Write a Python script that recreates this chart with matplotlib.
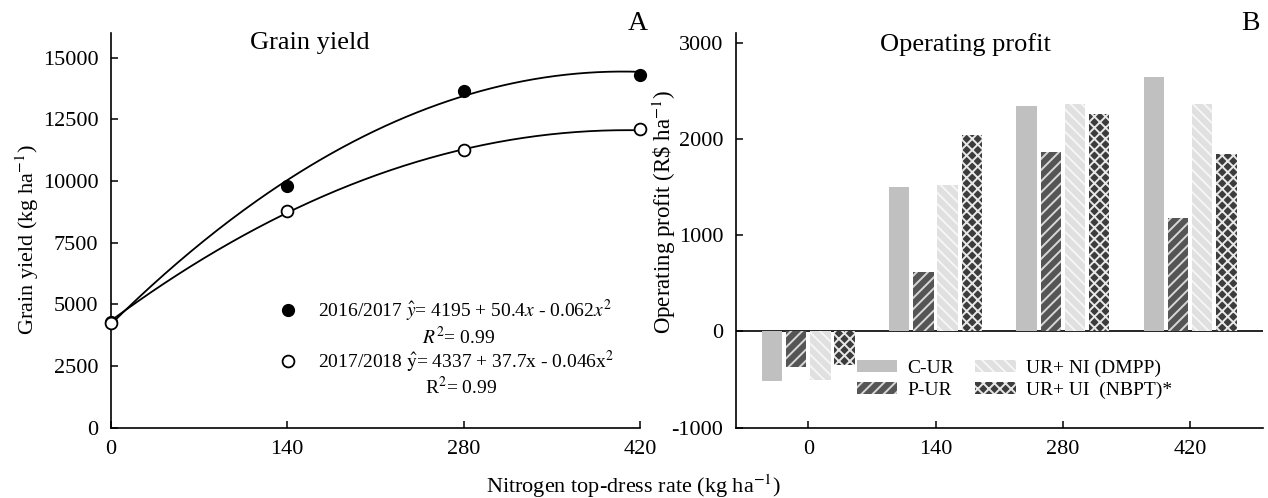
import numpy as np
import matplotlib
matplotlib.use("Agg")
import matplotlib.pyplot as plt

plt.rcParams['font.family'] = ['Liberation Serif', 'DejaVu Serif']
plt.rcParams['mathtext.fontset'] = 'stix'
plt.rcParams['hatch.linewidth'] = 1.4
plt.rcParams['axes.unicode_minus'] = False

# grain yield data (kg/ha)
rates = [0, 140, 280, 420]
yield_2016 = [4280, 9800, 13640, 14310]
yield_2017 = [4260, 8780, 11240, 12110]
# fitted quadratic coefficients (x^2, x, const) as printed on the chart
fit_2016 = [-0.062, 50.4, 4195]
fit_2017 = [-0.046, 37.7, 4337]

# operating profit (R$/ha)
rate_labels = ['0', '140', '280', '420']
treatments = ['C-UR', 'P-UR', 'UR+ NI (DMPP)', 'UR+ UI  (NBPT)*']
profit_cur = [-520, 1500, 2345, 2640]
profit_pur = [-365, 620, 1865, 1182]
profit_ni = [-505, 1525, 2358, 2366]
profit_ui = [-346, 2040, 2262, 1846]

fig = plt.figure(figsize=(12.68, 4.98), dpi=100)

# ---- panel A: grain yield ----
ax1 = fig.add_axes([0.0875, 0.1412, 0.4172, 0.7925])
xs = np.linspace(0, 420, 200)
ax1.plot(xs, np.polyval(fit_2016, xs), color='black', lw=1.3)
ax1.plot(xs, np.polyval(fit_2017, xs), color='black', lw=1.3)
h1, = ax1.plot(rates, yield_2016, 'o', color='black', ms=8.5, clip_on=False, zorder=3)
h2, = ax1.plot(rates, yield_2017, 'o', mfc='white', mec='black', mew=1.3, ms=8.5,
               clip_on=False, zorder=4)

ax1.set_xlim(0, 420)
ax1.set_ylim(0, 16000)
ax1.set_xticks(rates)
ax1.set_yticks(np.arange(0, 15001, 2500))
ax1.text(0.375, 0.975, 'Grain yield', transform=ax1.transAxes, ha='center',
         va='center', fontsize=19)

eq1 = r'2016/2017 $\hat{y}$= 4195 + 50.4$x$ - 0.062$x^2$'
eq2 = r'2017/2018 $\hat{\mathrm{y}}$= 4337 + 37.7x - 0.046x$^2$'
ax1.legend([h1, h2], [eq1, eq2], loc='upper left', bbox_to_anchor=(0.316, 0.33),
           frameon=False, fontsize=14, handlelength=1.0, handletextpad=1.05,
           borderpad=0, borderaxespad=0, labelspacing=1.3)
ax1.text(0.658, 0.230, r'$R^2$= 0.99', transform=ax1.transAxes, ha='center',
         va='center', fontsize=14)
ax1.text(0.662, 0.103, r'R$^2$= 0.99', transform=ax1.transAxes, ha='center',
         va='center', fontsize=14)

# ---- panel B: operating profit ----
ax2 = fig.add_axes([0.5802, 0.1412, 0.4161, 0.7925])
pos = np.arange(len(rate_labels))
width = 0.16
step = 0.19
styles = [
    dict(color='#c0c0c0', hatch=None, edge='#c0c0c0'),
    dict(color='#555555', hatch='///', edge='#d8d8d8'),
    dict(color='#e0e0e0', hatch='\\\\\\', edge='#f6f6f6'),
    dict(color='#3c3c3c', hatch='xxx', edge='#e8e8e8'),
]
series = [profit_cur, profit_pur, profit_ni, profit_ui]
for i, (vals, st, name) in enumerate(zip(series, styles, treatments)):
    ax2.bar(pos + (i - 1.5) * step, vals, width, color=st['color'],
            hatch=st['hatch'], edgecolor=st['edge'], linewidth=0, label=name)

ax2.axhline(0, color='black', lw=1.2, zorder=0.5)
ax2.set_xlim(-0.57, 3.575)
ax2.set_ylim(-1000, 3100)
ax2.set_xticks(pos)
ax2.set_xticklabels(rate_labels)
ax2.set_yticks([-1000, 0, 1000, 2000, 3000])
ax2.text(0.435, 0.97, 'Operating profit', transform=ax2.transAxes, ha='center',
         va='center', fontsize=19)
ax2.legend(loc='upper left', bbox_to_anchor=(0.229, 0.172), ncol=2, frameon=False,
           fontsize=14, handlelength=2.1, handleheight=0.57, handletextpad=0.5,
           columnspacing=1.1, labelspacing=0.23, borderpad=0, borderaxespad=0)

for ax in (ax1, ax2):
    for s in ('top', 'right'):
        ax.spines[s].set_visible(False)
    for s in ('left', 'bottom'):
        ax.spines[s].set_linewidth(1.2)
    ax.tick_params(direction='in', length=5, width=1.1, labelsize=16, pad=9)

fig.text(634 / 1268, 1 - 486 / 498, r'Nitrogen top-dress rate (kg ha$^{-1}$)',
         ha='center', va='center', fontsize=16)
fig.text(27 / 1268, 1 - 240 / 498, r'Grain yield (kg ha$^{-1}$)', rotation=90,
         ha='center', va='center', fontsize=16)
fig.text(664 / 1268, 1 - 212 / 498, r'Operating profit (R\$ ha$^{-1}$)', rotation=90,
         ha='center', va='center', fontsize=16.5)
fig.text(638 / 1268, 1 - 24 / 498, 'A', ha='center', va='center', fontsize=20)
fig.text(1250 / 1268, 1 - 24 / 498, 'B', ha='center', va='center', fontsize=20)

fig.savefig('out.png', dpi=100)
